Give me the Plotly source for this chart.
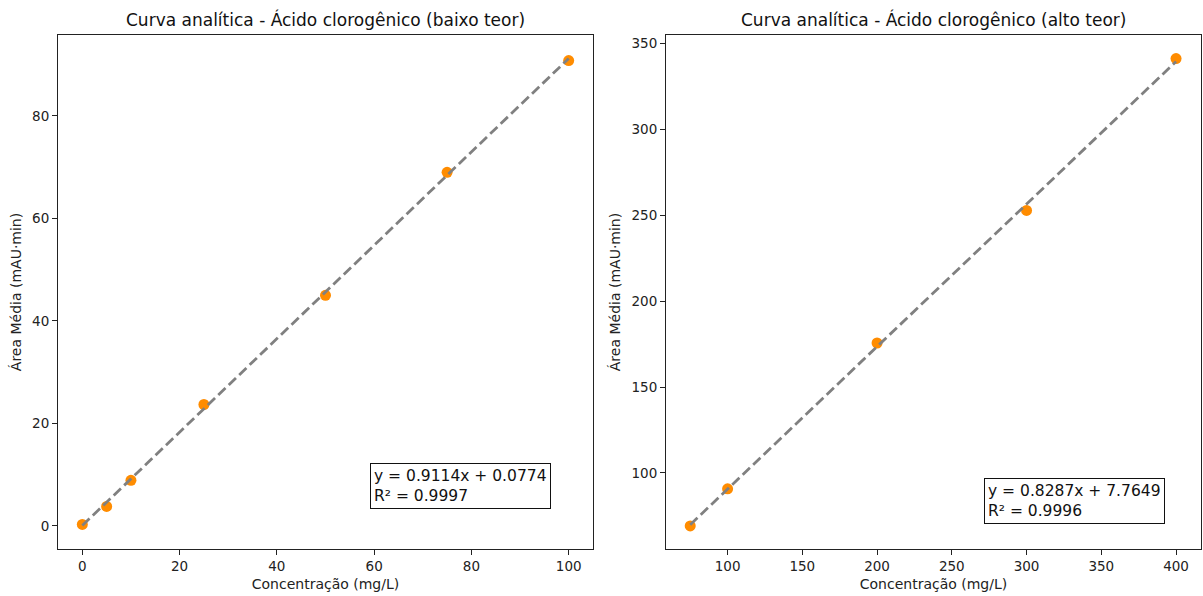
import plotly.graph_objects as go

# Calibration data: chlorogenic acid, low and high concentration ranges
conc_low = [0, 5, 10, 25, 50, 75, 100]
area_low = [0.3, 3.8, 8.9, 23.7, 45.0, 69.0, 90.8]
slope_low, intercept_low, r2_low = 0.9114, 0.0774, 0.9997

conc_high = [75, 100, 200, 300, 400]
area_high = [69.2, 90.8, 175.6, 252.7, 341.0]
slope_high, intercept_high, r2_high = 0.8287, 7.7649, 0.9996

titles = ["Curva analítica - Ácido clorogênico (baixo teor)",
          "Curva analítica - Ácido clorogênico (alto teor)"]
x_label = "Concentração (mg/L)"
y_label = "Área Média (mAU·min)"

W, H = 1203, 596
FONT = "DejaVu Sans, Liberation Sans, sans-serif"

panels = [
    dict(x=conc_low, y=area_low, m=slope_low, b=intercept_low, r2=r2_low,
         xr=[-5, 105], yr=[-4.5, 95.8], xt=[0, 20, 40, 60, 80, 100], yt=[0, 20, 40, 60, 80],
         px=(58, 593), box=(375, 505)),
    dict(x=conc_high, y=area_high, m=slope_high, b=intercept_high, r2=r2_high,
         xr=[58.8, 416.7], yr=[55.8, 354.7], xt=[100, 150, 200, 250, 300, 350, 400],
         yt=[100, 150, 200, 250, 300, 350],
         px=(666, 1201), box=(989, 520)),
]

top_px, bot_px = 35, 549
fig = go.Figure()
annotations = []

for i, p in enumerate(panels, start=1):
    xa = "x" if i == 1 else f"x{i}"
    ya = "y" if i == 1 else f"y{i}"
    fig.add_trace(go.Scatter(
        x=p["x"], y=p["y"], mode="markers", xaxis=xa, yaxis=ya,
        marker=dict(color="#ff8c00", size=11, line=dict(width=0)),
        showlegend=False))
    x0, x1 = min(p["x"]), max(p["x"])
    fig.add_trace(go.Scatter(
        x=[x0, x1], y=[p["m"] * x0 + p["b"], p["m"] * x1 + p["b"]],
        mode="lines", xaxis=xa, yaxis=ya,
        line=dict(color="gray", width=2.8, dash="10px,4.5px"),
        showlegend=False))

    dom_x = [p["px"][0] / W, p["px"][1] / W]
    dom_y = [1 - bot_px / H, 1 - top_px / H]
    axis_common = dict(showgrid=False, zeroline=False, showline=True, mirror=True,
                       linecolor="#222222", linewidth=1.1, ticks="outside", ticklen=5,
                       tickcolor="#222222", tickwidth=1,
                       tickfont=dict(family=FONT, size=13.5, color="#222222"))
    xkey = "xaxis" if i == 1 else f"xaxis{i}"
    ykey = "yaxis" if i == 1 else f"yaxis{i}"
    fig.update_layout({
        xkey: dict(domain=dom_x, range=p["xr"], tickvals=p["xt"], anchor=ya,
                   title=dict(text=x_label, font=dict(family=FONT, size=14, color="#222222"), standoff=5),
                   **axis_common),
        ykey: dict(domain=dom_y, range=p["yr"], tickvals=p["yt"], anchor=xa,
                   title=dict(text=y_label, font=dict(family=FONT, size=14, color="#222222"), standoff=7),
                   **axis_common),
    })

    annotations.append(dict(
        text=titles[i - 1], xref="paper", yref="paper",
        x=(p["px"][0] + p["px"][1]) / 2 / W, y=1 - 20 / H,
        xanchor="center", yanchor="middle", showarrow=False,
        font=dict(family=FONT, size=17, color="#111111")))

    annotations.append(dict(
        text=f"y = {p['m']:.4f}x + {p['b']:.4f}<br>R² = {p['r2']:.4f}",
        xref="paper", yref="paper", x=(p["box"][0] - 5) / W, y=1 - (p["box"][1] + 4) / H,
        xanchor="left", yanchor="bottom", align="left", showarrow=False,
        bordercolor="#111111", borderwidth=1, borderpad=3, bgcolor="white",
        font=dict(family=FONT, size=15.5, color="#111111")))

fig.update_layout(
    width=W, height=H, margin=dict(l=0, r=0, t=0, b=0),
    paper_bgcolor="white", plot_bgcolor="white",
    annotations=annotations,
)

fig.write_html("out.html")
